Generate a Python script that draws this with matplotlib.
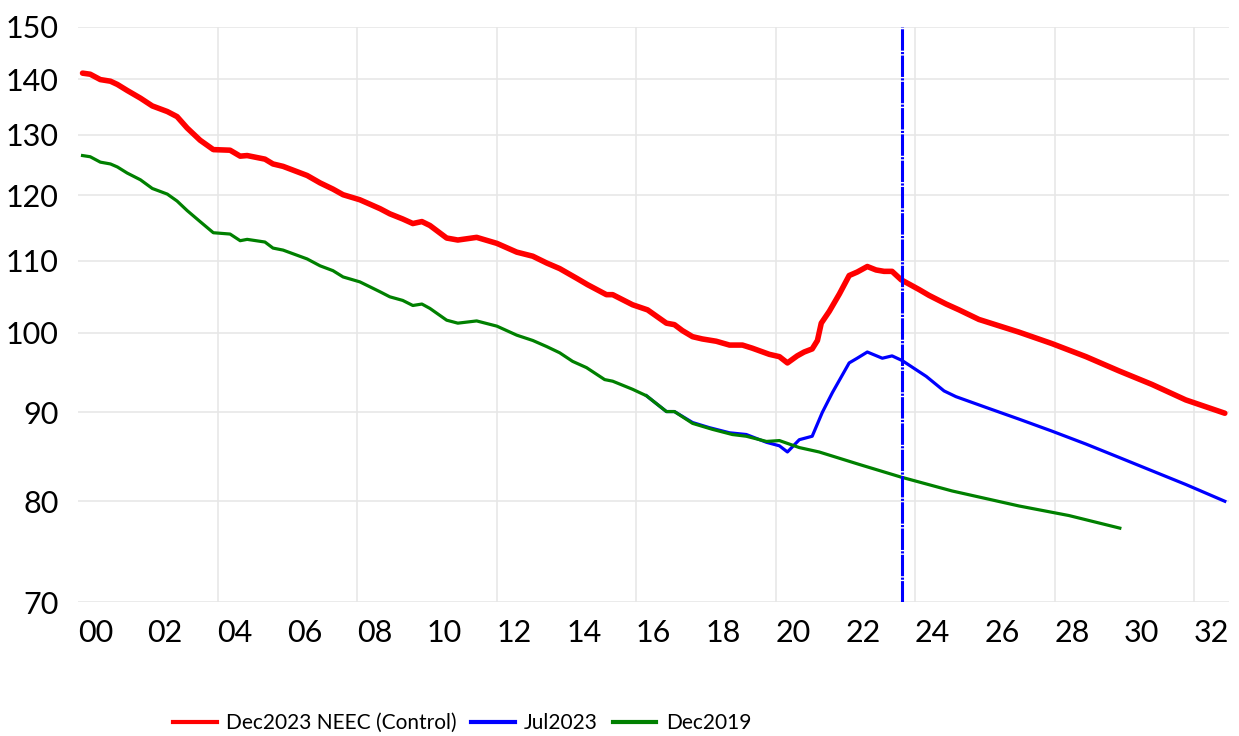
import matplotlib
matplotlib.use("Agg")
import matplotlib.pyplot as plt
from matplotlib.ticker import FixedLocator, NullLocator
from matplotlib.lines import Line2D

# readings (x in fractional years, y index level)
red_years = [2000.13, 2000.35, 2000.64, 2000.93, 2001.13, 2001.41, 2001.79, 2002.13, 2002.56, 2002.84,
             2003.13, 2003.50, 2003.88, 2004.36, 2004.65, 2004.85, 2005.36, 2005.59, 2005.88, 2006.57,
             2006.94, 2007.31, 2007.60, 2008.08, 2008.37, 2008.66, 2008.94, 2009.31, 2009.60, 2009.86,
             2010.09, 2010.57, 2010.89, 2011.43, 2012.01, 2012.58, 2013.04, 2013.44, 2013.81, 2014.30,
             2014.61, 2015.15, 2015.33, 2015.90, 2016.33, 2016.87, 2017.10, 2017.33, 2017.62, 2017.90,
             2018.30, 2018.68, 2019.05, 2019.33, 2019.82, 2020.11, 2020.34, 2020.62, 2020.82, 2021.05,
             2021.20, 2021.31, 2021.54, 2021.83, 2022.11, 2022.34, 2022.63, 2022.88, 2023.11, 2023.34,
             2023.60, 2024.12, 2024.40, 2024.89, 2025.26, 2025.83, 2026.98, 2027.92, 2028.90, 2029.84,
             2030.79, 2031.76, 2032.88]
red_vals = [141.1, 140.9, 139.9, 139.6, 139.0, 137.9, 136.5, 135.1, 134.1, 133.2,
            131.2, 129.1, 127.5, 127.4, 126.4, 126.5, 125.9, 125.1, 124.7, 123.2,
            122.0, 121.0, 120.1, 119.3, 118.6, 117.9, 117.1, 116.3, 115.6, 115.9,
            115.3, 113.4, 113.1, 113.5, 112.6, 111.3, 110.7, 109.7, 108.9, 107.5,
            106.6, 105.2, 105.2, 103.8, 103.1, 101.3, 101.1, 100.3, 99.5, 99.2,
            98.9, 98.4, 98.4, 98.0, 97.2, 96.9, 96.1, 97.0, 97.5, 97.9,
            99.0, 101.3, 102.9, 105.3, 107.9, 108.4, 109.2, 108.7, 108.5, 108.5,
            107.3, 105.9, 105.1, 103.9, 103.1, 101.8, 100.1, 98.6, 96.9, 95.1,
            93.4, 91.5, 89.9]

blue_years = [2016.30, 2016.87, 2017.10, 2017.62, 2018.10, 2018.68, 2019.16, 2019.74, 2020.11, 2020.34,
              2020.68, 2021.05, 2021.34, 2021.63, 2022.11, 2022.34, 2022.63, 2023.06, 2023.34, 2023.63,
              2024.32, 2024.83, 2025.17, 2026.03, 2026.98, 2027.92, 2028.90, 2029.84, 2030.79, 2031.76,
              2032.88]
blue_vals = [92.0, 90.1, 90.1, 88.8, 88.2, 87.6, 87.4, 86.5, 86.1, 85.4,
             86.8, 87.2, 90.0, 92.4, 96.1, 96.7, 97.5, 96.7, 97.0, 96.4,
             94.4, 92.6, 91.9, 90.6, 89.2, 87.8, 86.3, 84.8, 83.3, 81.8,
             80.0]

green_years = [2000.13, 2000.35, 2000.64, 2000.93, 2001.13, 2001.41, 2001.79, 2002.13, 2002.56, 2002.84,
               2003.13, 2003.50, 2003.88, 2004.36, 2004.65, 2004.85, 2005.36, 2005.59, 2005.88, 2006.57,
               2006.94, 2007.31, 2007.60, 2008.08, 2008.37, 2008.66, 2008.94, 2009.31, 2009.60, 2009.86,
               2010.09, 2010.57, 2010.89, 2011.43, 2012.01, 2012.58, 2013.04, 2013.44, 2013.81, 2014.18,
               2014.58, 2015.10, 2015.33, 2015.90, 2016.30, 2016.87, 2017.10, 2017.62, 2018.19, 2018.76,
               2019.16, 2019.74, 2020.11, 2020.68, 2021.25, 2022.40, 2023.60, 2025.06, 2026.98, 2028.41,
               2029.87]
green_vals = [126.5, 126.3, 125.4, 125.1, 124.6, 123.6, 122.5, 121.1, 120.2, 119.1,
              117.6, 115.9, 114.2, 114.0, 113.0, 113.2, 112.8, 111.9, 111.6, 110.3,
              109.3, 108.6, 107.7, 107.0, 106.3, 105.6, 104.9, 104.4, 103.7, 103.9,
              103.3, 101.7, 101.3, 101.6, 100.9, 99.7, 99.0, 98.2, 97.4, 96.3,
              95.5, 94.0, 93.8, 92.8, 92.0, 90.1, 90.1, 88.7, 88.0, 87.4,
              87.2, 86.6, 86.7, 85.9, 85.4, 84.0, 82.6, 81.1, 79.5, 78.5,
              77.2]

series_names = ["Dec2023 NEEC (Control)", "Jul2023", "Dec2019"]
series_colors = ["#ff0000", "#0000ff", "#008000"]
cutoff_year = 2023.625
y_ticks = [70, 80, 90, 100, 110, 120, 130, 140, 150]
x_label_pos = [2000.5 + 2 * i for i in range(17)]
x_labels = ["%02d" % (2 * i) for i in range(17)]
x_grid_pos = [2004 + 4 * i for i in range(8)]

plt.rcParams["font.family"] = ["Lato", "DejaVu Sans"]

fig = plt.figure(figsize=(12.39, 7.36), dpi=100)
ax = fig.add_axes([78 / 1239, 1 - 602 / 736, 1151 / 1239, 575 / 736])

ax.plot(red_years, red_vals, color=series_colors[0], lw=4.0, solid_capstyle="round", zorder=3)
ax.plot(blue_years, blue_vals, color=series_colors[1], lw=2.3, zorder=3)
ax.plot(green_years, green_vals, color=series_colors[2], lw=2.3, zorder=4)
ax.axvline(cutoff_year, color="#0000ff", lw=2.2, dashes=(7, 0.45, 0.7, 0.45), zorder=5)

ax.set_yscale("log")
ax.set_ylim(70, 150)
ax.set_xlim(2000, 2033)
ax.yaxis.set_major_locator(FixedLocator(y_ticks))
ax.yaxis.set_minor_locator(NullLocator())
ax.set_yticklabels([str(v) for v in y_ticks])
ax.xaxis.set_major_locator(FixedLocator(x_label_pos))
ax.set_xticklabels(x_labels)
ax.xaxis.set_minor_locator(FixedLocator(x_grid_pos))

ax.grid(axis="y", which="major", color="#e6e6e6", lw=1.1)
ax.grid(axis="x", which="minor", color="#e6e6e6", lw=1.1)
ax.tick_params(axis="both", which="both", length=0, labelsize=22)
ax.tick_params(axis="y", pad=14)
ax.tick_params(axis="x", pad=12)
for s in ax.spines.values():
    s.set_visible(False)

# legend swatches are all drawn the same thickness in the original
handles = [Line2D([], [], color=c, lw=3.0) for c in series_colors]
fig.legend(handles, series_names, loc="center", bbox_to_anchor=(462 / 1239, 1 - 723 / 736), ncol=3,
           frameon=False, fontsize=15, handlelength=2.1, handletextpad=0.45, columnspacing=0.7)

fig.savefig("out.png", dpi=100)
